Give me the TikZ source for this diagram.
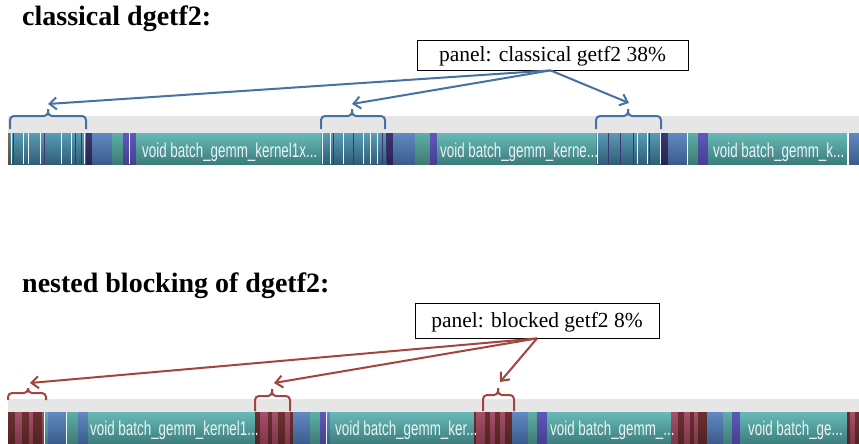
\documentclass[tikz,border=0pt]{standalone}
\usepackage{fontspec}
\setmainfont{Liberation Serif}
\newfontfamily\kernfont[FakeStretch=0.67]{Liberation Sans}
\usetikzlibrary{arrows.meta}

% timeline palette
\definecolor{stripBg}{HTML}{E6E6E6}
\definecolor{kernT}{HTML}{68BAB7}
\definecolor{kernB}{HTML}{3C7C7D}
\definecolor{steelT}{HTML}{5B9BB6}
\definecolor{steelB}{HTML}{2F5E74}
\definecolor{blueT}{HTML}{6189C0}
\definecolor{blueB}{HTML}{3A5C8C}
\definecolor{navyT}{HTML}{3A3672}
\definecolor{navyB}{HTML}{28244E}
\definecolor{purT}{HTML}{5F58BC}
\definecolor{purB}{HTML}{453F8E}
\definecolor{tealT}{HTML}{5DAFA8}
\definecolor{tealB}{HTML}{3E7A74}
\definecolor{pinkT}{HTML}{A8506C}
\definecolor{pinkB}{HTML}{7C3647}
\definecolor{marT}{HTML}{6C3030}
\definecolor{marB}{HTML}{512323}
\definecolor{edgeBr}{HTML}{8A6A40}
\definecolor{kernTxt}{HTML}{EAF5F4}
\definecolor{callBlue}{HTML}{4672A3}
\definecolor{callRed}{HTML}{A3443F}

\tikzset{
  segKern/.style={top color=kernT,bottom color=kernB},
  segSteel/.style={top color=steelT,bottom color=steelB},
  segBlue/.style={top color=blueT,bottom color=blueB},
  segNavy/.style={top color=navyT,bottom color=navyB},
  segPurple/.style={top color=purT,bottom color=purB},
  segTeal/.style={top color=tealT,bottom color=tealB},
  segPink/.style={top color=pinkT,bottom color=pinkB},
  segMaroon/.style={top color=marT,bottom color=marB},
  segEdge/.style={top color=edgeBr,bottom color=edgeBr!70!black},
  lnWhite/.style={draw=white!92!cyan,line width=0.9pt},
  lnDark/.style={draw=navyT,line width=0.9pt},
  ktext/.style={font=\kernfont\fontsize{20}{20}\selectfont,text=kernTxt,inner sep=0pt,anchor=base west},
  title/.style={font=\bfseries\fontsize{28}{30}\selectfont,inner sep=0pt,anchor=base west},
  callout/.style={draw=black,line width=0.8pt,fill=white,font=\fontsize{21.5}{22}\selectfont,
    text height=17pt,text depth=3pt,inner sep=0pt,align=center},
  brBlue/.style={draw=callBlue,line width=2pt,rounded corners=4pt},
  brRed/.style={draw=callRed,line width=2pt,rounded corners=4pt},
  arBlue/.style={draw=callBlue,line width=2pt,-{Straight Barb[length=7pt,width=12pt,line width=2pt]}},
  arRed/.style={draw=callRed,line width=2pt,-{Straight Barb[length=7pt,width=12pt,line width=2pt]}},
}

% a coloured span of a timeline bar, between \bartop and \barbot
\newcommand\blk[3]{\shade[#3] (#1,\bartop) rectangle (#2,\barbot);}
% a thin vertical event line across the bar
\newcommand\stripe[2]{\draw[#2] (#1,\bartop) -- (#1,\barbot);}
% bracket over a panel: ends x1,x2, peak xc, bar y, foot y, tip y
\newcommand\panelbrace[7]{%
  \draw[#7] (#1,#5) -- (#1,#4) -- (#3,#4) -- (#3,#6);
  \draw[#7] (#2,#5) -- (#2,#4) -- (#3,#4) -- (#3,#6);}

\begin{document}
\begin{tikzpicture}[x=1pt,y=-1pt]
\useasboundingbox[fill=white] (0,0) rectangle (859,444);

% ---------------- classical dgetf2 ----------------
\node[title] (t1) at (22,26) {classical dgetf2:};
\fill[stripBg] (8,116) rectangle (859,133);
\def\bartop{133}\def\barbot{164}
\blk{8}{10}{segEdge}
\blk{10}{86}{segSteel}
\foreach \x in {11,23,28,40,61,71,84} {\stripe{\x}{lnWhite}}
\foreach \x in {13,44,75,81} {\stripe{\x}{lnDark}}
\blk{86}{92}{segNavy}
\blk{92}{112}{segBlue}
\blk{112}{123}{segTeal}
\blk{123}{136}{segPurple}
\stripe{129.5}{lnWhite}
\blk{136}{321}{segKern}
\blk{321}{387}{segSteel}
\foreach \x in {322,330,343,363,370,377} {\stripe{\x}{lnWhite}}
\foreach \x in {333,353,382,386} {\stripe{\x}{lnDark}}
\blk{387}{393}{segNavy}
\blk{393}{415}{segBlue}
\blk{415}{430}{segTeal}
\blk{430}{437}{segPurple}
\blk{437}{596}{segKern}
\blk{596}{661}{segSteel}
\foreach \x in {597,637,647,660} {\stripe{\x}{lnWhite}}
\foreach \x in {608,620,633,649} {\stripe{\x}{lnDark}}
\blk{661}{668}{segNavy}
\blk{668}{687}{segBlue}
\stripe{687.5}{lnWhite}
\blk{688}{698}{segTeal}
\blk{698}{708}{segPurple}
\blk{708}{847}{segKern}
\stripe{847.5}{lnWhite}
\blk{849}{859}{segBlue}
\node[ktext] (ka1) at (142,157) {void batch\_gemm\_kernel1x...};
\node[ktext] (ka2) at (440,157) {void batch\_gemm\_kerne...};
\node[ktext] (ka3) at (713,157) {void batch\_gemm\_k...};

\panelbrace{10}{86}{48}{116}{129}{109}{brBlue}
\panelbrace{321}{385}{352}{116}{129}{109}{brBlue}
\panelbrace{596}{661}{628}{116}{129}{109}{brBlue}
\coordinate (pa1) at (48,104);
\coordinate (pa2) at (352,104);
\coordinate (pa3) at (629,103);

\node[callout,minimum width=271pt,minimum height=30pt] (box1) at (552.5,55)
  {panel: classical getf2 38\%};
\draw[arBlue] ([xshift=-2pt]box1.south) -- (pa1);
\draw[arBlue] ([xshift=-2pt]box1.south) -- (pa2);
\draw[arBlue] ([xshift=-2pt]box1.south) -- (pa3);

% ---------------- nested blocking ----------------
\node[title] (t2) at (22,292) {nested blocking of dgetf2:};
\fill[stripBg] (8,399) rectangle (859,412);
\def\bartop{412}\def\barbot{444}
\blk{8}{15}{segMaroon}
\blk{15}{22}{segPink}
\blk{22}{29}{segMaroon}
\blk{29}{33}{segPink}
\blk{33}{42}{segMaroon}
\blk{42}{45}{segPink}
\stripe{44.5}{lnWhite}
\blk{45}{48}{segTeal}
\blk{48}{66}{segBlue}
\stripe{66.5}{lnWhite}
\blk{67}{78}{segTeal}
\blk{78}{88}{segBlue}
\blk{88}{255}{segKern}
\blk{255}{260}{segMaroon}
\blk{260}{268}{segPink}
\blk{268}{272}{segMaroon}
\blk{272}{278}{segPink}
\blk{278}{285}{segMaroon}
\blk{285}{290}{segPink}
\blk{290}{293}{segMaroon}
\blk{293}{310}{segBlue}
\blk{310}{320}{segTeal}
\blk{320}{326}{segPurple}
\stripe{326.5}{lnWhite}
\blk{327}{330}{segBlue}
\blk{330}{474}{segKern}
\blk{474}{476}{segMaroon}
\blk{476}{485}{segPink}
\blk{485}{490}{segMaroon}
\blk{490}{495}{segPink}
\blk{495}{500}{segMaroon}
\blk{500}{505}{segPink}
\blk{505}{512}{segMaroon}
\blk{512}{528}{segBlue}
\blk{528}{537}{segTeal}
\blk{537}{547}{segPurple}
\blk{547}{671}{segKern}
\blk{671}{678}{segPink}
\blk{678}{684}{segMaroon}
\blk{684}{690}{segPink}
\blk{690}{694}{segMaroon}
\blk{694}{698}{segPink}
\blk{698}{707}{segMaroon}
\blk{707}{723}{segBlue}
\blk{723}{732}{segTeal}
\blk{732}{740}{segPurple}
\blk{740}{847}{segKern}
\blk{847}{850}{segMaroon}
\blk{850}{855}{segPink}
\blk{855}{859}{segMaroon}
\node[ktext] (kb1) at (90,435) {void batch\_gemm\_kernel1...};
\node[ktext] (kb2) at (335,435) {void batch\_gemm\_ker...};
\node[ktext] (kb3) at (550,435) {void batch\_gemm\_...};
\node[ktext] (kb4) at (748,435) {void batch\_ge...};

\panelbrace{8}{46}{28}{393}{400}{388}{brRed}
\panelbrace{255}{290}{272}{396}{411}{389}{brRed}
\panelbrace{483}{514}{498}{395}{411}{388}{brRed}
\coordinate (pb1) at (30,383);
\coordinate (pb2) at (274,383);
\coordinate (pb3) at (500,382);

\node[callout,minimum width=244pt,minimum height=35pt] (box2) at (537,320.5)
  {panel: blocked getf2 8\%};
\draw[arRed] (box2.south) -- (pb1);
\draw[arRed] (box2.south) -- (pb2);
\draw[arRed] (box2.south) -- (pb3);
\end{tikzpicture}
\end{document}
